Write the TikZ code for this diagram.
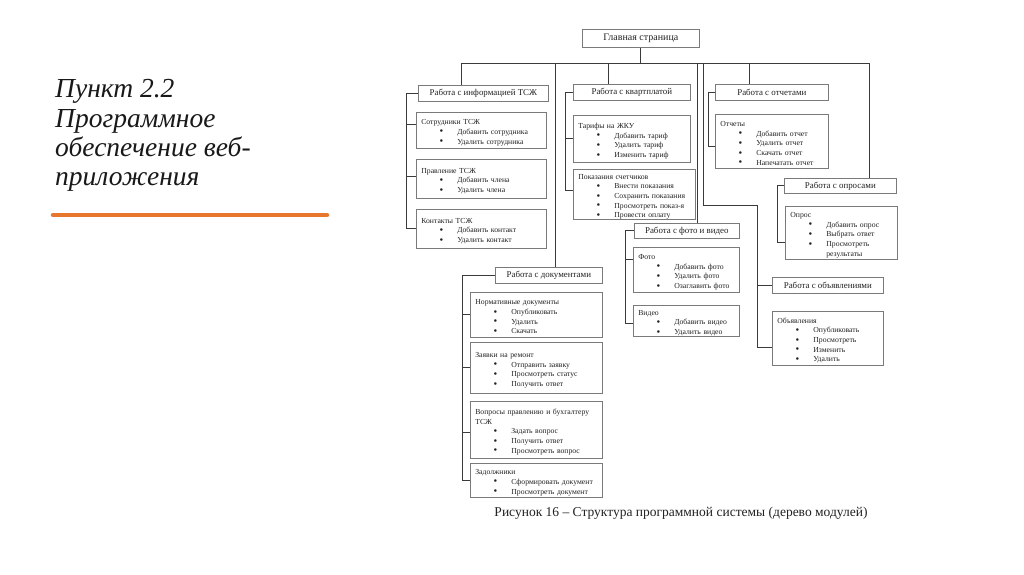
\documentclass[tikz,border=0pt]{standalone}
\usepackage{fontspec}
\setmainfont{Liberation Serif}
\usetikzlibrary{calc}
\definecolor{orng}{HTML}{E8772E}
\definecolor{ln}{HTML}{3A3A3A}
\definecolor{bx}{HTML}{7A7A7A}
\definecolor{tx}{HTML}{222222}
\newcommand\ttl[1]{\par\noindent\mbox{#1}}
\newcommand\bul{\makebox[0pt]{\raisebox{-0.6pt}{\fontsize{10.5}{10}\selectfont\textbullet}}}
\newcommand\itm[1]{\par\noindent\hspace*{20pt}\bul\hspace*{16pt}\mbox{#1}}
\newcommand\cnt[1]{\par\noindent\hspace*{36pt}\mbox{#1}}
\begin{document}
\begin{tikzpicture}[x=1pt,y=-1pt,
  hdr/.style={draw=bx, line width=0.7pt, anchor=north west, inner sep=0pt, font=\fontsize{8.9}{10}\selectfont, text=tx},
  cbox/.style={draw=bx, line width=0.7pt, anchor=north west, inner xsep=5pt, inner ysep=0pt, align=left, font=\fontsize{7.7}{9.7}\selectfont, text=tx},
  conn/.style={draw=ln, line width=0.9pt},
  ttlfont/.style={anchor=base west, inner sep=0pt, font=\fontsize{27.5}{30}\selectfont\itshape, text=black!90}]
\useasboundingbox (0,0) rectangle (1024,574);
\fill[white] (0,0) rectangle (1024,574);

% title
\node[ttlfont] (t1) at (55,97) {Пункт 2.2};
\node[ttlfont] (t2) at (55,127) {Программное};
\node[ttlfont] (t3) at (55,156) {обеспечение веб-};
\node[ttlfont] (t4) at (55,185) {приложения};
\draw[orng, line width=4.5pt, line cap=round] (53,215) -- (327,215);

% headers
\node[hdr, minimum width=117pt, minimum height=18pt, font=\fontsize{10}{11}\selectfont] (main) at (582,29) {Главная страница};
\node[hdr, minimum width=130pt, minimum height=16pt] (hInfo) at (418,85) {Работа с информацией ТСЖ};
\node[hdr, minimum width=117pt, minimum height=16pt] (hKv) at (573,84) {Работа с квартплатой};
\node[hdr, minimum width=113pt, minimum height=16pt] (hOtch) at (715,84) {Работа с отчетами};
\node[hdr, minimum width=112pt, minimum height=15pt] (hOpr) at (784,178) {Работа с опросами};
\node[hdr, minimum width=105pt, minimum height=15pt] (hFV) at (634,223) {Работа с фото и видео};
\node[hdr, minimum width=111pt, minimum height=16pt] (hObj) at (772,277) {Работа с объявлениями};
\node[hdr, minimum width=107pt, minimum height=16pt] (hDoc) at (495,267) {Работа с документами};

% content boxes
\node[cbox, text width=120pt, minimum height=36pt] (cSotr) at (416,112) {\ttl{Сотрудники ТСЖ}\itm{Добавить сотрудника}\itm{Удалить сотрудника}};
\node[cbox, text width=120pt, minimum height=39pt] (cPravl) at (416,159) {\ttl{Правление ТСЖ}\itm{Добавить члена}\itm{Удалить члена}};
\node[cbox, text width=120pt, minimum height=39pt] (cKont) at (416,209) {\ttl{Контакты ТСЖ}\itm{Добавить контакт}\itm{Удалить контакт}};

\node[cbox, text width=107pt, minimum height=47pt] (cTar) at (573,115) {\ttl{Тарифы на ЖКУ}\itm{Добавить тариф}\itm{Удалить тариф}\itm{Изменить тариф}};
\node[cbox, text width=112pt, minimum height=46pt] (cPok) at (573,169) {\ttl{Показания счетчиков}\itm{Внести показания}\itm{Сохранить показания}\itm{Просмотреть показ-я}\itm{Провести оплату}};

\node[cbox, text width=96pt, minimum height=45pt] (cFoto) at (633,247) {\ttl{Фото}\itm{Добавить фото}\itm{Удалить фото}\itm{Озаглавить фото}};
\node[cbox, text width=96pt, minimum height=30pt] (cVid) at (633,305) {\ttl{Видео}\itm{Добавить видео}\itm{Удалить видео}};

\node[cbox, text width=103pt, minimum height=54pt] (cOtch) at (715,114) {\ttl{Отчеты}\itm{Добавить отчет}\itm{Удалить отчет}\itm{Скачать отчет}\itm{Напечатать отчет}};
\node[cbox, text width=102pt, minimum height=53pt] (cOpr) at (785,206) {\ttl{Опрос}\itm{Добавить опрос}\itm{Выбрать ответ}\itm{Просмотреть}\cnt{результаты}};
\node[cbox, text width=101pt, minimum height=54pt] (cObj) at (772,311) {\ttl{Объявления}\itm{Опубликовать}\itm{Просмотреть}\itm{Изменить}\itm{Удалить}};

\node[cbox, text width=122pt, minimum height=45pt] (cNorm) at (470,292) {\ttl{Нормативные документы}\itm{Опубликовать}\itm{Удалить}\itm{Скачать}};
\node[cbox, text width=122pt, minimum height=51pt] (cZay) at (470,342) {\ttl{Заявки на ремонт}\itm{Отправить заявку}\itm{Просмотреть статус}\itm{Получить ответ}};
\node[cbox, text width=122pt, minimum height=57pt] (cVopr) at (470,401) {\ttl{Вопросы правлению и бухгалтеру}\ttl{ТСЖ}\itm{Задать вопрос}\itm{Получить ответ}\itm{Просмотреть вопрос}};
\node[cbox, text width=122pt, minimum height=34pt] (cZad) at (470,463) {\ttl{Задолжники}\itm{Сформировать документ}\itm{Просмотреть документ}};

% caption
\node[anchor=base, inner sep=0pt, font=\fontsize{13.5}{15}\selectfont, text=tx] (cap) at (681,516) {Рисунок 16 – Структура программной системы (дерево модулей)};

% bus and feeds
\coordinate (bL) at (461,63);
\coordinate (bR) at (869,63);
\coordinate (v2) at (555,63);
\coordinate (v3) at (608,63);
\coordinate (v4) at (697,63);
\coordinate (v5) at (703,63);
\coordinate (v5b) at (703,205);
\coordinate (v5c) at (757,205);
\coordinate (v6) at (749,63);
\draw[conn] (main.south) -- (main.south |- bL);
\draw[conn] (bL) -- (bR);
\draw[conn] (bL) -- (bL |- hInfo.north);
\draw[conn] (v2) -- (v2 |- hDoc.north);
\draw[conn] (v3) -- (v3 |- hKv.north);
\draw[conn] (v4) -- (v4 |- hFV.north);
\draw[conn] (v5) -- (v5b) -- (v5c) |- (hObj.west);
\draw[conn] (v6) -- (v6 |- hOtch.north);
\draw[conn] (bR) -- (bR |- hOpr.north);

% brackets
\draw[conn] (hInfo.west) -- ++(-12,0) coordinate (kInfo) |- (cKont.west);
\draw[conn] ([yshift=6pt]cSotr.west) -| (kInfo);
\draw[conn] ([yshift=2.5pt]cPravl.west) -| (kInfo);

\draw[conn] (hKv.west) -- ++(-8,0) coordinate (kKv) |- ([yshift=4pt]cPok.west);
\draw[conn] (cTar.west) -| (kKv);

\draw[conn] (hFV.west) -- ++(-9,0) coordinate (kFV) |- ([yshift=-3pt]cVid.west);
\draw[conn] ([yshift=10.5pt]cFoto.west) -| (kFV);

\draw[conn] (hOtch.west) -- ++(-7,0) coordinate (kOtch) |- ([yshift=-5pt]cOtch.west);

\draw[conn] (hOpr.west) -- ++(-7,0) coordinate (kOpr) |- ([yshift=-9.5pt]cOpr.west);

\draw[conn] (hObj.west) -- ++(-15,0) coordinate (kObj) |- ([yshift=-9pt]cObj.west);

\draw[conn] (hDoc.west) -- ++(-33,0) coordinate (kDoc) |- (cZad.west);
\draw[conn] (cNorm.west) -| (kDoc);
\draw[conn] (cZay.west) -| (kDoc);
\draw[conn] ([yshift=-2.5pt]cVopr.west) -| (kDoc);
\end{tikzpicture}
\end{document}
